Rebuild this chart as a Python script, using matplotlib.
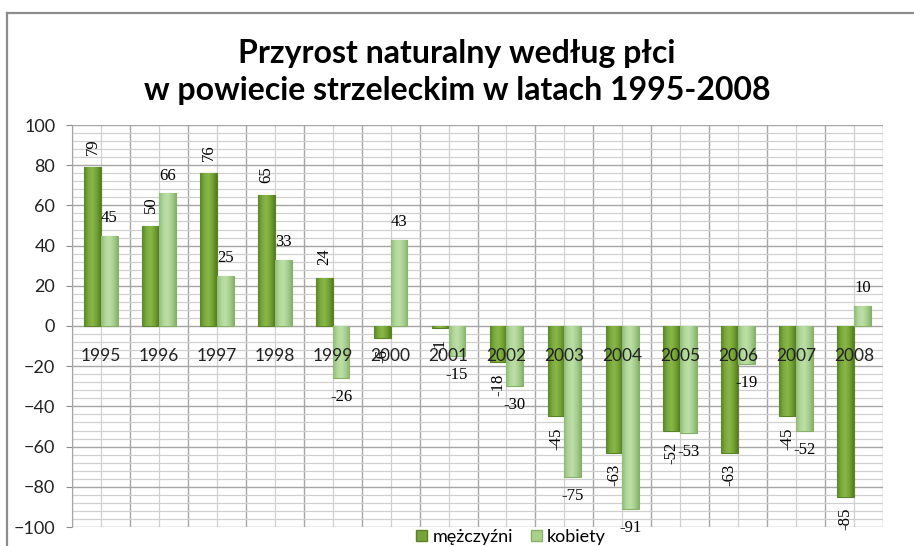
"""Przyrost naturalny według płci w powiecie strzeleckim, 1995-2008."""

import matplotlib
matplotlib.use("Agg")
import matplotlib.pyplot as plt
import numpy as np
from matplotlib.colors import LinearSegmentedColormap
from matplotlib.lines import Line2D
from matplotlib.patches import Patch
from matplotlib.ticker import MultipleLocator

# ---------------------------------------------------------------------------
# Data
# ---------------------------------------------------------------------------
years = ["1995", "1996", "1997", "1998", "1999", "2000", "2001",
         "2002", "2003", "2004", "2005", "2006", "2007", "2008"]
men = [79, 50, 76, 65, 24, -6, -1, -18, -45, -63, -52, -63, -45, -85]
women = [45, 66, 25, 33, -26, 43, -15, -30, -75, -91, -53, -19, -52, 10]

MEN_COLOR = "#76a33a"
MEN_EDGE = "#5c8226"
WOMEN_COLOR = "#a9d08c"
WOMEN_EDGE = "#86b06a"

# horizontal shading across each bar (edge -> centre -> edge)
men_cmap = LinearSegmentedColormap.from_list(
    "men", ["#5a8626", "#7aab3c", "#88b848", "#74a234", "#557d22"])
women_cmap = LinearSegmentedColormap.from_list(
    "women", ["#8fbb76", "#b1d79a", "#bddfa6", "#a7cf8e", "#88b26e"])


def shade_bars(ax, bars, cmap):
    grad = np.linspace(0, 1, 64).reshape(1, -1)
    for b in bars:
        x0, y0 = b.get_x(), b.get_y()
        w, h = b.get_width(), b.get_height()
        im = ax.imshow(grad, cmap=cmap, aspect="auto", zorder=3.5,
                       extent=[x0, x0 + w, y0, y0 + h], interpolation="bilinear")
        im.set_clip_path(b)


fig = plt.figure(figsize=(9.14, 5.46), dpi=100)
ax = fig.add_axes([72 / 914, 19 / 546, 811 / 914, 402 / 546])

x = np.arange(len(years))
width = 0.29

bars_m = ax.bar(x - width / 2, men, width, color=MEN_COLOR, edgecolor=MEN_EDGE,
                linewidth=0.8, zorder=3)
bars_w = ax.bar(x + width / 2, women, width, color=WOMEN_COLOR, edgecolor=WOMEN_EDGE,
                linewidth=0.8, zorder=3)
shade_bars(ax, bars_m, men_cmap)
shade_bars(ax, bars_w, women_cmap)

# data labels: men rotated, women horizontal
lab_font = dict(family="Liberation Serif", fontsize=12, color="black", zorder=5)
for i, v in enumerate(men):
    off = 9 if v >= 0 else -8
    ax.annotate(str(v), (x[i] - width / 2, v), xytext=(0, off),
                textcoords="offset points", rotation=90, ha="center",
                va="bottom" if v >= 0 else "top", **lab_font)
for i, v in enumerate(women):
    off = 7 if v >= 0 else -8
    ax.annotate(str(v), (x[i] + width / 2, v), xytext=(0, off),
                textcoords="offset points", ha="center",
                va="bottom" if v >= 0 else "top", **lab_font)

# category labels sit just below the zero line
for i, yr in enumerate(years):
    ax.annotate(yr, (x[i], 0), xytext=(0, -16), textcoords="offset points",
                ha="center", va="top", family="Lato", fontsize=12.5,
                color="#222222", zorder=6)

ax.set_xlim(-0.5, len(years) - 0.5)
ax.set_ylim(-100, 100)
ax.yaxis.set_major_locator(MultipleLocator(20))
ax.yaxis.set_minor_locator(MultipleLocator(4))
ax.set_xticks(np.arange(len(years) + 1) - 0.5)
ax.set_xticks(x, minor=True)
ax.set_xticklabels([])
ax.tick_params(axis="x", which="both", length=0)
ax.tick_params(axis="y", which="major", length=4, color="#8c8c8c",
               labelsize=13, labelcolor="#222222", pad=8)
ax.tick_params(axis="y", which="minor", length=0)
for lbl in ax.get_yticklabels():
    lbl.set_family("Lato")

ax.grid(which="major", color="#a6a6a6", linewidth=1.0, zorder=0)
ax.grid(which="minor", color="#d0d0d0", linewidth=0.9, zorder=0)
ax.set_axisbelow(True)
for side in ["top", "right", "bottom"]:
    ax.spines[side].set_visible(False)
ax.spines["left"].set_color("#a6a6a6")

fig.text(457 / 914, 1 - 72 / 546,
         "Przyrost naturalny według płci\nw powiecie strzeleckim w latach 1995-2008",
         ha="center", va="center", family="Lato", fontweight="bold",
         fontsize=23, linespacing=1.32, color="black")

# chart frame (left and top edges visible)
fig.add_artist(Line2D([7.5 / 914, 7.5 / 914], [0, 1 - 13 / 546],
                      transform=fig.transFigure, color="#8c8c8c", linewidth=1.6))
fig.add_artist(Line2D([7.5 / 914, 1], [1 - 13 / 546, 1 - 13 / 546],
                      transform=fig.transFigure, color="#8c8c8c", linewidth=1.6))

handles = [Patch(facecolor=MEN_COLOR, edgecolor=MEN_EDGE, label="mężczyźni"),
           Patch(facecolor=WOMEN_COLOR, edgecolor=WOMEN_EDGE, label="kobiety")]
fig.legend(handles=handles, loc="center", bbox_to_anchor=(511 / 914, 9 / 546),
           ncol=2, frameon=False, prop={"family": "Lato", "size": 13},
           handlelength=0.6, handleheight=0.6, handletextpad=0.3,
           columnspacing=1.0)

fig.savefig("out.png", dpi=100, facecolor="white")
